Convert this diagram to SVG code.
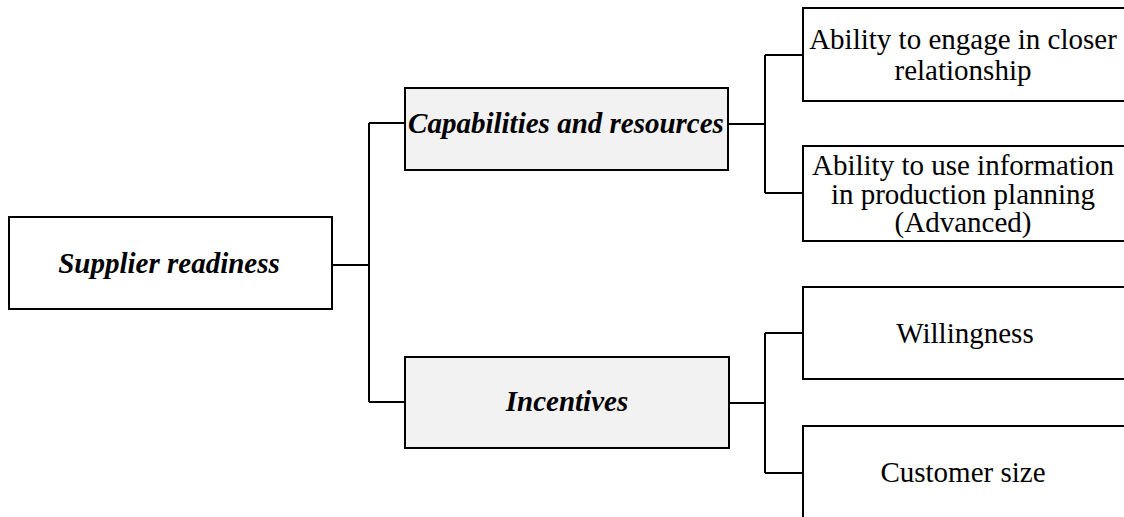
<svg xmlns="http://www.w3.org/2000/svg" width="1124" height="517" viewBox="0 0 1124 517">
  <style>
    .box { fill: #ffffff; stroke: #000000; stroke-width: 2; }
    .mid { fill: #f2f2f2; stroke: #000000; stroke-width: 2; }
    .lbl { font-family: "Liberation Serif", "DejaVu Serif", serif; font-size: 29px; fill: #000000; text-anchor: middle; }
    .em { font-weight: bold; font-style: italic; }
    .conn { fill: none; stroke: #000000; stroke-width: 2; }
  </style>
  <rect width="1124" height="517" fill="#ffffff"/>

  <g id="connectors">
    <path class="conn" d="M332 265 H369"/>
    <path class="conn" d="M369 123 V402"/>
    <path class="conn" d="M369 123 H405"/>
    <path class="conn" d="M369 402 H405"/>
    <path class="conn" d="M728 124 H765"/>
    <path class="conn" d="M765 55 V193"/>
    <path class="conn" d="M765 55 H803"/>
    <path class="conn" d="M765 193 H803"/>
    <path class="conn" d="M729 403 H765"/>
    <path class="conn" d="M765 333 V473"/>
    <path class="conn" d="M765 333 H803"/>
    <path class="conn" d="M765 473 H803"/>
  </g>

  <g id="supplier-readiness">
    <rect class="box" x="9" y="217" width="323" height="92"/>
    <text class="lbl em" x="169" y="273">Supplier readiness</text>
  </g>

  <g id="capabilities">
    <rect class="mid" x="405" y="88" width="323" height="82"/>
    <text class="lbl em" x="566" y="133">Capabilities and resources</text>
  </g>

  <g id="incentives">
    <rect class="mid" x="405" y="357" width="324" height="91"/>
    <text class="lbl em" x="567" y="411">Incentives</text>
  </g>

  <g id="closer-relationship">
    <rect class="box" x="803" y="8" width="340" height="93"/>
    <text class="lbl" x="963" y="49">Ability to engage in closer</text>
    <text class="lbl" x="963" y="80">relationship</text>
  </g>

  <g id="production-planning">
    <rect class="box" x="803" y="146" width="340" height="95"/>
    <text class="lbl" x="963" y="175">Ability to use information</text>
    <text class="lbl" x="963" y="204">in production planning</text>
    <text class="lbl" x="963" y="232">(Advanced)</text>
  </g>

  <g id="willingness">
    <rect class="box" x="803" y="287" width="340" height="92"/>
    <text class="lbl" x="965" y="343">Willingness</text>
  </g>

  <g id="customer-size">
    <rect class="box" x="803" y="426" width="340" height="110"/>
    <text class="lbl" x="963" y="482">Customer size</text>
  </g>
</svg>
